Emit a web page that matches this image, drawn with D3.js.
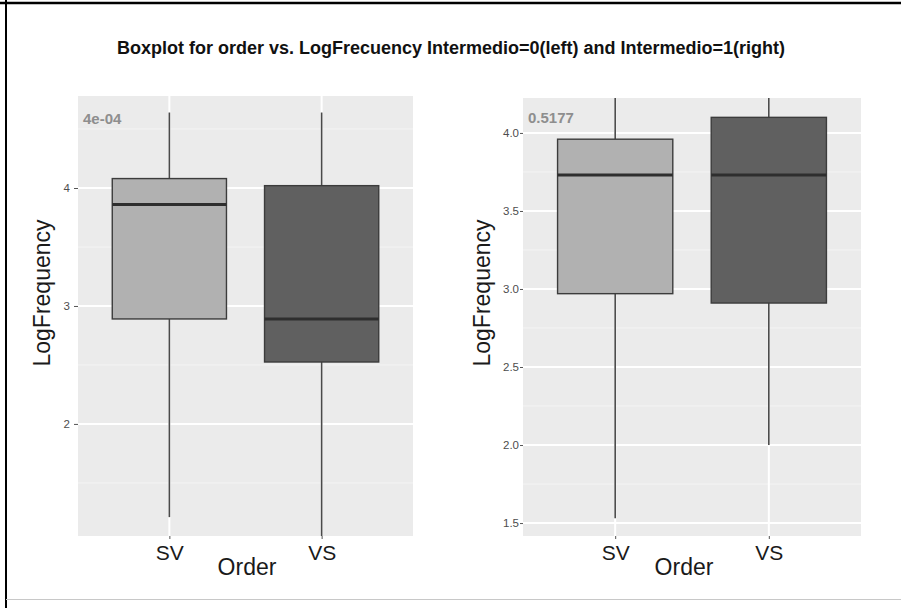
<!DOCTYPE html>
<html>
<head>
<meta charset="utf-8">
<script src="https://cdn.jsdelivr.net/npm/d3@7"></script>
<style>
  body { margin: 0; background: #fff; }
  text { font-family: "Liberation Sans", Arial, sans-serif; }
</style>
</head>
<body>
<div id="chart"></div>
<script>
// values
var categories = ["SV", "VS"];

// Intermedio = 0 (left panel)
var leftLower  = [1.21, 1.00];
var leftQ1     = [2.89, 2.525];
var leftMedian = [3.86, 2.89];
var leftQ3     = [4.08, 4.02];
var leftUpper  = [4.64, 4.64];
var leftTicks  = [2, 3, 4];
var leftMinor  = [1.5, 2.5, 3.5, 4.5];
var leftLabel  = "4e-04";

// Intermedio = 1 (right panel)
var rightLower  = [1.53, 2.00];
var rightQ1     = [2.97, 2.91];
var rightMedian = [3.73, 3.73];
var rightQ3     = [3.96, 4.10];
var rightUpper  = [4.35, 4.35];
var rightTicks  = [1.5, 2.0, 2.5, 3.0, 3.5, 4.0];
var rightMinor  = [1.75, 2.25, 2.75, 3.25, 3.75, 4.25];
var rightLabel  = "0.5177";

var fills = ["#b1b1b1", "#606060"];

var W = 901, H = 608;

var svg = d3.select("#chart")
  .append("svg")
    .attr("width", W)
    .attr("height", H);

svg.append("rect").attr("width", W).attr("height", H).attr("fill", "#fff");

// frame: black top and left, light bottom line
svg.append("line").attr("x1", 0).attr("x2", W).attr("y1", 3).attr("y2", 3)
  .attr("stroke", "#000").attr("stroke-width", 2.5);
svg.append("line").attr("x1", 6).attr("x2", 6).attr("y1", 0).attr("y2", H)
  .attr("stroke", "#000").attr("stroke-width", 2);
svg.append("line").attr("x1", 6).attr("x2", W).attr("y1", 599.5).attr("y2", 599.5)
  .attr("stroke", "#c8c8c8").attr("stroke-width", 1);

svg.append("text")
  .attr("x", 451).attr("y", 54)
  .attr("text-anchor", "middle")
  .attr("textLength", 668)
  .attr("lengthAdjust", "spacingAndGlyphs")
  .style("font-size", "18px")
  .style("font-weight", "bold")
  .attr("fill", "#111")
  .text("Boxplot for order vs. LogFrecuency Intermedio=0(left) and Intermedio=1(right)");

function drawPanel(p) {
  var x = d3.scalePoint().domain(categories).range([p.x0, p.x1]).padding(0.6);
  var y = d3.scaleLinear().domain(p.domain).range([p.y1, p.y0]);
  var bw = x.step() * 0.75;

  var g = svg.append("g");
  var clipId = "clip" + p.id;
  g.append("clipPath").attr("id", clipId)
    .append("rect")
      .attr("x", p.x0).attr("y", p.y0)
      .attr("width", p.x1 - p.x0).attr("height", p.y1 - p.y0);

  g.append("rect")
    .attr("x", p.x0).attr("y", p.y0)
    .attr("width", p.x1 - p.x0).attr("height", p.y1 - p.y0)
    .attr("fill", "#ebebeb");

  // grid
  g.selectAll(".minor").data(p.minor.filter(function(d) { return d > p.domain[0] && d < p.domain[1]; }))
    .enter().append("line")
      .attr("x1", p.x0).attr("x2", p.x1)
      .attr("y1", function(d) { return y(d); }).attr("y2", function(d) { return y(d); })
      .attr("stroke", "#f4f4f4").attr("stroke-width", 1);
  g.selectAll(".major").data(p.ticks)
    .enter().append("line")
      .attr("x1", p.x0).attr("x2", p.x1)
      .attr("y1", function(d) { return y(d); }).attr("y2", function(d) { return y(d); })
      .attr("stroke", "#fff").attr("stroke-width", 2);
  g.selectAll(".vgrid").data(categories)
    .enter().append("line")
      .attr("x1", function(d) { return x(d); }).attr("x2", function(d) { return x(d); })
      .attr("y1", p.y0).attr("y2", p.y1)
      .attr("stroke", "#fff").attr("stroke-width", 2);

  var boxes = categories.map(function(c, i) {
    return { cat: c, lo: p.lower[i], q1: p.q1[i], med: p.median[i], q3: p.q3[i], hi: p.upper[i], fill: fills[i] };
  });

  var marks = g.append("g").attr("clip-path", "url(#" + clipId + ")");
  var b = marks.selectAll(".box").data(boxes).enter().append("g");

  b.append("line")
    .attr("x1", function(d) { return x(d.cat); }).attr("x2", function(d) { return x(d.cat); })
    .attr("y1", function(d) { return y(d.hi); }).attr("y2", function(d) { return y(d.q3); })
    .attr("stroke", "#4a4a4a").attr("stroke-width", 1.6);
  b.append("line")
    .attr("x1", function(d) { return x(d.cat); }).attr("x2", function(d) { return x(d.cat); })
    .attr("y1", function(d) { return y(d.q1); }).attr("y2", function(d) { return y(d.lo); })
    .attr("stroke", "#4a4a4a").attr("stroke-width", 1.6);
  b.append("rect")
    .attr("x", function(d) { return x(d.cat) - bw / 2; })
    .attr("width", bw)
    .attr("y", function(d) { return y(d.q3); })
    .attr("height", function(d) { return y(d.q1) - y(d.q3); })
    .attr("fill", function(d) { return d.fill; })
    .attr("stroke", "#3c3c3c").attr("stroke-width", 1.4);
  b.append("line")
    .attr("x1", function(d) { return x(d.cat) - bw / 2; }).attr("x2", function(d) { return x(d.cat) + bw / 2; })
    .attr("y1", function(d) { return y(d.med); }).attr("y2", function(d) { return y(d.med); })
    .attr("stroke", "#2e2e2e").attr("stroke-width", 3);

  // axes
  var ya = g.append("g")
    .attr("transform", "translate(" + p.x0 + ",0)")
    .call(d3.axisLeft(y).tickValues(p.ticks).tickFormat(p.fmt).tickSize(p.tick).tickPadding(p.pad));
  ya.select(".domain").remove();
  ya.selectAll("line").attr("stroke", "#555");
  ya.selectAll("text").attr("fill", "#4d4d4d").style("font-size", "11.5px");

  var xa = g.append("g")
    .attr("transform", "translate(0," + p.y1 + ")")
    .call(d3.axisBottom(x).tickSize(3).tickPadding(6));
  xa.select(".domain").remove();
  xa.selectAll("line").attr("stroke", "#555");
  xa.selectAll("text").attr("fill", "#1a1a1a").style("font-size", "21px").attr("dy", "0.71em");

  g.append("text")
    .attr("x", p.orderX).attr("y", 575)
    .attr("text-anchor", "middle")
    .style("font-size", "23px")
    .attr("fill", "#1a1a1a")
    .text("Order");

  g.append("text")
    .attr("transform", "translate(" + p.titleX + ",293) rotate(-90)")
    .attr("text-anchor", "middle")
    .style("font-size", "23px")
    .attr("fill", "#1a1a1a")
    .text("LogFrequency");

  g.append("text")
    .attr("x", p.x0 + 5).attr("y", p.labelY)
    .style("font-size", "15px")
    .style("font-weight", "bold")
    .attr("fill", "#8e8e8e")
    .text(p.label);
}

drawPanel({
  id: 0, x0: 78, x1: 413, y0: 96, y1: 536, domain: [1.05, 4.78],
  ticks: leftTicks, minor: leftMinor, fmt: d3.format("d"), tick: 4, pad: 4,
  lower: leftLower, q1: leftQ1, median: leftMedian, q3: leftQ3, upper: leftUpper,
  label: leftLabel, labelY: 124, titleX: 50, orderX: 247
});

drawPanel({
  id: 1, x0: 523, x1: 861, y0: 98, y1: 536, domain: [1.417, 4.224],
  ticks: rightTicks, minor: rightMinor, fmt: d3.format(".1f"), tick: 3, pad: 1,
  lower: rightLower, q1: rightQ1, median: rightMedian, q3: rightQ3, upper: rightUpper,
  label: rightLabel, labelY: 123, titleX: 490, orderX: 684
});
</script>
</body>
</html>
